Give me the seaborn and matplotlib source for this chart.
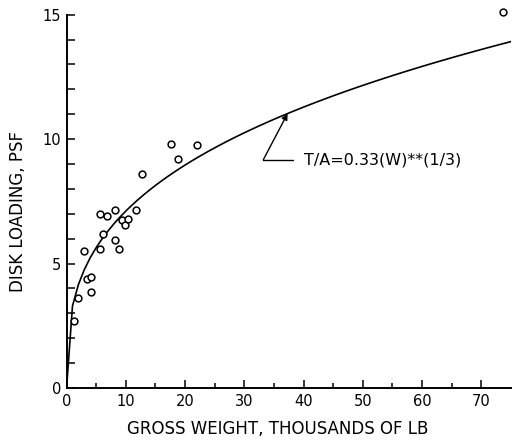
import numpy as np
import pandas as pd
import matplotlib
matplotlib.use("Agg")
import matplotlib.pyplot as plt
import seaborn as sns

# Rotorcraft survey: gross weight (thousands of lb) vs. disk loading (psf)
gross_weight = [1.2, 2.0, 2.9, 3.4, 4.2, 4.05, 5.6, 5.6, 6.2, 6.9, 8.2, 8.2,
                8.9, 9.4, 9.85, 10.3, 11.8, 12.7, 17.6, 18.8, 22.0, 73.7]
disk_loading = [2.7, 3.6, 5.5, 4.4, 4.45, 3.85, 5.6, 7.0, 6.2, 6.9, 7.15, 5.95,
                5.6, 6.75, 6.55, 6.8, 7.15, 8.6, 9.8, 9.2, 9.75, 15.1]

# Trend line T/A = 0.33 * W**(1/3), W in lb, tabulated every 1000 lb
coef = 0.33
w_fit = np.arange(0, 76, 1.0)
ta_fit = coef * (w_fit * 1000.0) ** (1.0 / 3.0)

points = pd.DataFrame({"w": gross_weight, "ta": disk_loading})
trend = pd.DataFrame({"w": w_fit, "ta": ta_fit})

sns.set_style("ticks")
plt.rcParams["font.family"] = ["DejaVu Sans"]
plt.rcParams["text.color"] = "black"
plt.rcParams["axes.labelcolor"] = "black"

fig = plt.figure(figsize=(5.12, 4.43), dpi=100)
ax = fig.add_axes([0.130, 0.124, 0.868, 0.843])

sns.lineplot(data=trend, x="w", y="ta", ax=ax, color="black", lw=1.2)
sns.scatterplot(data=points, x="w", y="ta", ax=ax, marker="o", s=24,
                facecolor="white", edgecolor="black", linewidth=1.1,
                clip_on=False, zorder=3)

ax.set_xlim(0, 75)
ax.set_ylim(0, 15)
ax.set_xticks([0, 10, 20, 30, 40, 50, 60, 70])
ax.set_xticks(np.arange(5, 75, 10), minor=True)
ax.set_yticks([0, 5, 10, 15])
ax.set_yticks([v for v in range(1, 15) if v % 5], minor=True)

ax.tick_params(axis="both", which="major", direction="in", length=6,
               width=1.1, labelsize=10.5, color="black", labelcolor="black",
               pad=4)
ax.tick_params(axis="x", which="minor", direction="in", length=3.5, width=1.1,
               color="black")
ax.tick_params(axis="y", which="minor", direction="in", length=6, width=1.1,
               color="black")

for side in ("top", "right"):
    ax.spines[side].set_visible(False)
for side in ("left", "bottom"):
    ax.spines[side].set_linewidth(1.4)
    ax.spines[side].set_color("black")

ax.set_xlabel("GROSS WEIGHT, THOUSANDS OF LB", fontsize=12, labelpad=8,
              x=0.476)
ax.set_ylabel("DISK LOADING, PSF", fontsize=12, labelpad=11, y=0.474)

# Leader to the trend line
w_tip = 37.3
ta_tip = coef * (w_tip * 1000.0) ** (1.0 / 3.0)
ax.plot([33.2, 38.2], [9.17, 9.17], color="black", lw=1.0)
ax.annotate("", xy=(w_tip, ta_tip), xytext=(33.2, 9.17),
            arrowprops=dict(arrowstyle="-|>", color="black", lw=1.0,
                            mutation_scale=9, shrinkA=0, shrinkB=0))
ax.text(40.0, 9.17, "T/A=0.33(W)**(1/3)", fontsize=11.5, va="center",
        ha="left", color="black")

fig.savefig("out.png", dpi=100, facecolor="white")
